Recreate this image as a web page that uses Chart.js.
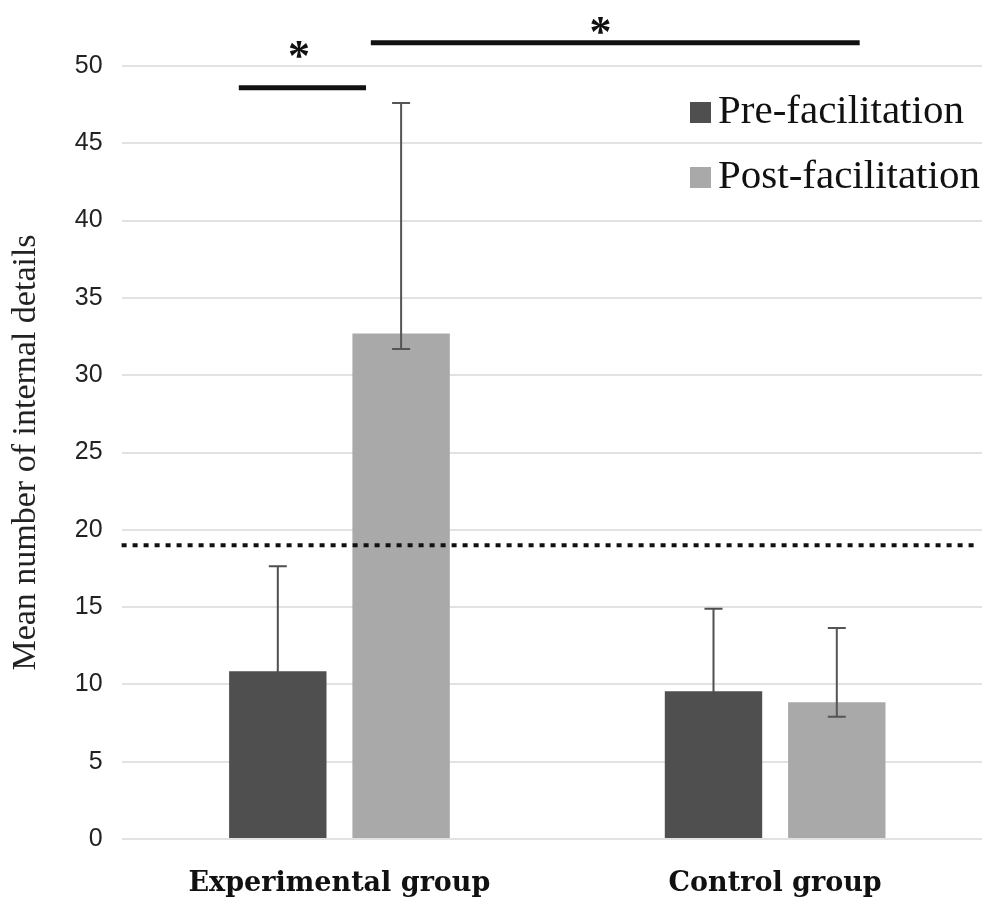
<!DOCTYPE html>
<html>
<head>
<meta charset="utf-8">
<script src="https://cdn.jsdelivr.net/npm/chart.js@4.4.0/dist/chart.umd.min.js"></script>
<style>
  html, body { margin: 0; padding: 0; background: #fff; overflow: hidden; }
  #wrap { width: 1000px; height: 901px; }
</style>
</head>
<body>
<div id="wrap"><canvas id="myBarChart1"></canvas></div>
<script>
const categories = ['Experimental group', 'Control group'];
const seriesLabels = ['Pre-facilitation', 'Post-facilitation'];
const preMeans = [10.85, 9.55];
const postMeans = [32.7, 8.85];
const preUpper = [17.65, 14.9];
const preLower = [9.95, 8.65];
const postUpper = [47.6, 13.65];
const postLower = [31.7, 7.9];
const referenceLevel = 19;
const yTicks = [0, 5, 10, 15, 20, 25, 30, 35, 40, 45, 50];
// significance brackets, x in category units (0 = first group), y in axis units
const sigFrom = [-0.231, 0.072];
const sigTo = [0.061, 1.194];
const sigLineY = [48.6, 51.5];
const sigStarX = [-0.093, 0.599];
const sigStarY = [51.1, 52.7];

const colors = ['#4f4f4f', '#a9a9a9'];
const errLow = [preLower, postLower];
const errHigh = [preUpper, postUpper];

const ctx = document.getElementById('myBarChart1').getContext('2d');

// error bars, dotted reference line, brackets and legend
const extras = {
  id: 'extras',
  afterDatasetsDraw(chart) {
    const c = chart.ctx;
    const y = chart.scales.y;
    const x = chart.scales.x;
    const area = chart.chartArea;

    c.save();
    c.lineWidth = 2;
    chart.data.datasets.forEach((ds, i) => {
      c.strokeStyle = i === 0 ? '#4f4f4f' : '#555';
      chart.getDatasetMeta(i).data.forEach((bar, j) => {
        const top = y.getPixelForValue(errHigh[i][j]);
        const bot = y.getPixelForValue(errLow[i][j]);
        c.beginPath();
        c.moveTo(bar.x, top); c.lineTo(bar.x, bot);
        c.moveTo(bar.x - 9, top); c.lineTo(bar.x + 9, top);
        c.moveTo(bar.x - 9, bot); c.lineTo(bar.x + 9, bot);
        c.stroke();
      });
    });

    // dotted line
    const ry = y.getPixelForValue(referenceLevel);
    c.strokeStyle = '#111';
    c.lineWidth = 4;
    c.setLineDash([5, 6]);
    c.beginPath();
    c.moveTo(area.left, ry); c.lineTo(area.right - 18, ry);
    c.stroke();
    c.setLineDash([]);

    // significance brackets
    c.lineWidth = 5;
    c.fillStyle = '#111';
    c.font = 'bold 44px "Liberation Serif", serif';
    c.textAlign = 'center';
    c.textBaseline = 'middle';
    sigFrom.forEach((f, k) => {
      const ly = y.getPixelForValue(sigLineY[k]);
      c.beginPath();
      c.moveTo(x.getPixelForValue(f), ly);
      c.lineTo(x.getPixelForValue(sigTo[k]), ly);
      c.stroke();
      c.fillText('*', x.getPixelForValue(sigStarX[k]), y.getPixelForValue(sigStarY[k]) + 10);
    });

    // legend
    c.font = '41px "Liberation Serif", serif';
    c.textAlign = 'left';
    const lx = area.right - 303;
    let ly = area.top + 36;
    seriesLabels.forEach((lab, k) => {
      c.fillStyle = colors[k];
      c.fillRect(lx, ly, 21, 21);
      c.fillStyle = '#111';
      c.fillText(lab, lx + 28, ly + 10);
      ly += 65;
    });
    c.restore();
  }
};

const myBarChart = new Chart(ctx, {
  type: 'bar',
  data: {
    labels: categories,
    datasets: [
      { label: seriesLabels[0], data: preMeans, backgroundColor: colors[0] },
      { label: seriesLabels[1], data: postMeans, backgroundColor: colors[1] }
    ]
  },
  options: {
    responsive: true,
    maintainAspectRatio: false,
    animation: false,
    categoryPercentage: 0.566,
    barPercentage: 0.79,
    layout: { padding: { top: 66, right: 7, left: 6, bottom: 4 } },
    plugins: {
      legend: { display: false },
      tooltip: { enabled: false }
    },
    scales: {
      x: {
        grid: { display: false },
        border: { display: false },
        afterFit: (axis) => { axis.height = 58; },
        ticks: {
          color: '#111',
          padding: 21,
          font: { family: '"DejaVu Serif", serif', weight: 'bold', size: 27 }
        }
      },
      y: {
        min: 0,
        max: 50,
        afterBuildTicks: (axis) => { axis.ticks = yTicks.map(v => ({ value: v })); },
        grid: { color: '#e2e2e2', lineWidth: 2, drawTicks: false },
        border: { display: false },
        ticks: {
          color: '#222',
          padding: 19,
          font: { family: '"Liberation Sans", sans-serif', size: 25 }
        },
        title: {
          display: true,
          text: 'Mean number of internal details',
          color: '#222',
          padding: { top: 0, bottom: 9 },
          font: { family: '"Liberation Serif", serif', size: 34 }
        }
      }
    }
  },
  plugins: [extras]
});
</script>
</body>
</html>
